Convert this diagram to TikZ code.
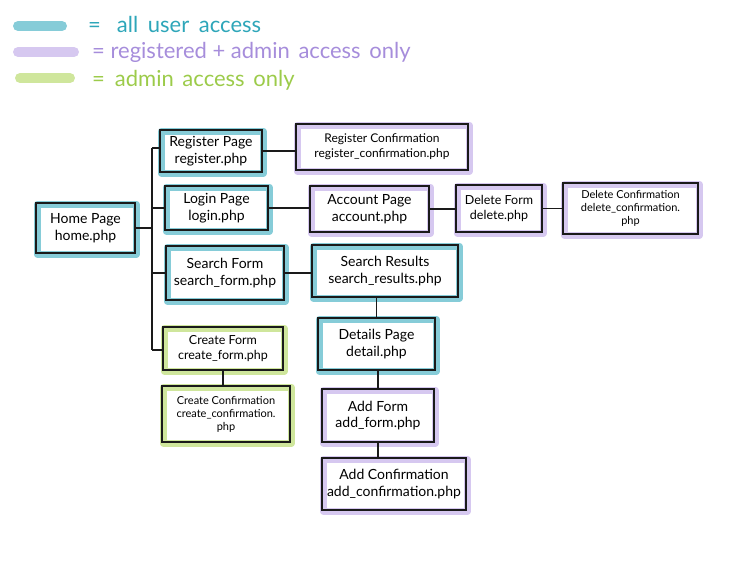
\documentclass[tikz,border=0pt]{standalone}
\usepackage{fontspec}
\setmainfont{Lato}
\definecolor{tealhl}{HTML}{86CCD8}
\definecolor{tealtx}{HTML}{2EA6B9}
\definecolor{purphl}{HTML}{D6C8F0}
\definecolor{purptx}{HTML}{A68DDB}
\definecolor{greenhl}{HTML}{CFE69C}
\definecolor{greentx}{HTML}{9CCB4A}
\definecolor{ink}{HTML}{1A1A1A}
\tikzset{
  box/.style={draw=ink, line width=1.2pt, align=center, inner sep=2pt,
    font=\fontsize{14}{16.5}\selectfont},
  hl/.style={preaction={draw=#1, line width=7pt, line join=round,
    transform canvas={shift={(1.3pt,-1.3pt)}}}},
  conn/.style={draw=ink, line width=1.1pt},
  bar/.style={line width=10pt, line cap=round},
  legend/.style={anchor=west, font=\fontsize{22}{25}\selectfont, inner sep=0pt}
}
\begin{document}
\begin{tikzpicture}[x=1pt,y=-1pt]
\useasboundingbox (0,0) rectangle (740,572);
% legend
\draw[bar, tealhl] (18,26) -- (62,26);
\draw[bar, purphl] (18,52) -- (74,52);
\draw[bar, greenhl] (20,78) -- (70,78);
\node[legend, text=tealtx] (l1) at (88,24) {=\hspace{16pt}all\hspace{4pt} user\hspace{4pt} access};
\node[legend, text=purptx] (l2) at (92,52) {= registered + admin\hspace{3pt} access\hspace{3pt} only};
\node[legend, text=greentx] (l3) at (92,80) {=\hspace{10pt}admin\hspace{3pt} access\hspace{3pt} only};
% boxes
\node[box, hl=tealhl, minimum width=99pt, minimum height=50pt] (home) at (85.5,228) {Home Page\\home.php};
\node[box, hl=tealhl, minimum width=102pt, minimum height=42pt] (reg) at (211,151) {Register Page\\register.php};
\node[box, hl=purphl, minimum width=172pt, minimum height=46pt, font=\fontsize{12}{15}\selectfont] (regc) at (382,147) {Register Confirmation\\register\_confirmation.php};
\node[box, hl=tealhl, minimum width=103pt, minimum height=44pt] (login) at (216.5,208) {Login Page\\login.php};
\node[box, hl=purphl, minimum width=119pt, minimum height=46pt] (acct) at (369.5,209) {Account Page\\account.php};
\node[box, hl=purphl, minimum width=86pt, minimum height=47pt, font=\fontsize{12.5}{15}\selectfont] (del) at (499,208.5) {Delete Form\\delete.php};
\node[box, hl=purphl, minimum width=135pt, minimum height=51pt, font=\fontsize{11}{13}\selectfont] (delc) at (630.5,208.5) {Delete Confirmation\\delete\_confirmation.\\php};
\node[box, hl=tealhl, minimum width=118pt, minimum height=54pt] (sform) at (225,273) {Search Form\\search\_form.php};
\node[box, hl=tealhl, minimum width=146pt, minimum height=52pt] (sres) at (385,271) {Search Results\\search\_results.php};
\node[box, hl=tealhl, minimum width=117pt, minimum height=52pt] (det) at (376.5,344) {Details Page\\detail.php};
\node[box, hl=greenhl, minimum width=120pt, minimum height=43pt, font=\fontsize{12.5}{15}\selectfont] (cform) at (223,348.5) {Create Form\\create\_form.php};
\node[box, hl=greenhl, minimum width=128pt, minimum height=56pt, font=\fontsize{11}{13}\selectfont] (cconf) at (226,414) {Create Confirmation\\create\_confirmation.\\php};
\node[box, hl=purphl, minimum width=112pt, minimum height=53pt] (addf) at (378,415.5) {Add Form\\add\_form.php};
\node[box, hl=purphl, minimum width=144pt, minimum height=52pt] (addc) at (394,484) {Add Confirmation\\add\_confirmation.php};
% trunk
\coordinate (ttop) at (152,148);
\coordinate (tbot) at (152,350);
\draw[conn] (ttop) -- (tbot);
\draw[conn] (home.east) -- (home.east -| ttop);
\draw[conn] (ttop) -- (ttop -| reg.west);
\draw[conn] (login.west -| ttop) -- (login.west);
\draw[conn] (sform.west -| ttop) -- (sform.west);
\draw[conn] (tbot) -- (tbot -| cform.west);
% horizontal links
\draw[conn] (reg.east) -- (reg.east -| regc.west);
\draw[conn] (login.east) -- (login.east -| acct.west);
\draw[conn] (acct.east) -- (acct.east -| del.west);
\draw[conn] (del.east) -- (del.east -| delc.west);
\draw[conn] (sform.east) -- (sform.east -| sres.west);
% vertical links
\draw[conn] (det.north |- sres.south) -- (det.north);
\draw[conn] (addf.north |- det.south) -- (addf.north);
\draw[conn] (addf.south) -- (addf.south |- addc.north);
\draw[conn] (cform.south) -- (cform.south |- cconf.north);
\end{tikzpicture}
\end{document}
